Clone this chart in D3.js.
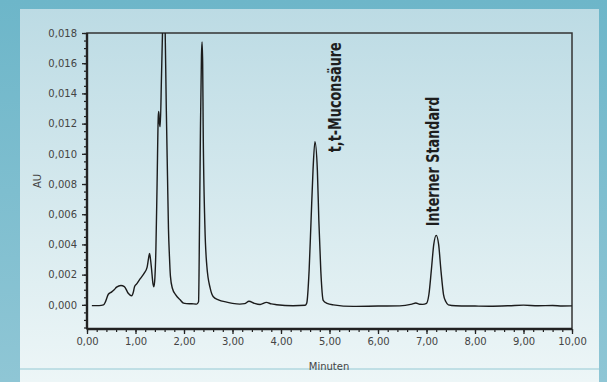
<!DOCTYPE html>
<html>
<head>
<meta charset="utf-8">
<script src="https://cdn.jsdelivr.net/npm/d3@7"></script>
<style>
  html, body { margin: 0; padding: 0; }
  svg { display: block; }
  .tick text { font-family: "DejaVu Sans", sans-serif; font-size: 10px; fill: #444; }
</style>
</head>
<body>
<svg id="chart" width="607" height="382"></svg>
<script>
// retention time (min) and absorbance (AU)
const times = [
  0.10, 0.25, 0.34, 0.38, 0.44, 0.51, 0.56, 0.61, 0.70, 0.77, 0.85, 0.92, 0.96, 0.98,
  1.02, 1.09, 1.18, 1.24, 1.27, 1.29, 1.31, 1.33, 1.36, 1.38, 1.40, 1.42, 1.445, 1.47,
  1.48, 1.495, 1.51, 1.535, 1.56, 1.585, 1.61, 1.635, 1.66, 1.68, 1.70, 1.72, 1.76,
  1.83, 1.92, 1.99, 2.05, 2.16, 2.26, 2.30, 2.32, 2.34, 2.36, 2.372, 2.385, 2.395,
  2.43, 2.47, 2.54, 2.60, 2.71, 2.88, 3.00, 3.15, 3.25, 3.34, 3.45, 3.57, 3.70, 3.80,
  3.91, 4.25, 4.50, 4.53, 4.58, 4.62, 4.66, 4.70, 4.75, 4.78, 4.82, 4.87, 4.95, 5.08,
  5.49, 6.00, 6.45, 6.70, 6.78, 6.86, 6.92, 7.00, 7.05, 7.10, 7.15, 7.20, 7.25, 7.30,
  7.35, 7.40, 7.45, 7.60, 8.00, 8.30, 8.70, 9.00, 9.30, 9.60, 9.80, 10.00
];
const absorbance = [
  -0.00005, -0.00005, 0.0000, 0.0002, 0.0007, 0.00086, 0.0010, 0.00117, 0.00128, 0.00121, 0.00077, 0.0006, 0.0009, 0.0012,
  0.00137, 0.0017, 0.0021, 0.0025, 0.0031, 0.0034, 0.0030, 0.0024, 0.0014, 0.0012, 0.0018, 0.0036, 0.0080, 0.0125,
  0.0128, 0.0120, 0.0118, 0.0150, 0.0185, 0.0220, 0.0185, 0.0130, 0.0085, 0.0050, 0.0032, 0.0019, 0.0011,
  0.00066, 0.00033, 0.00011, 0.00008, 0.00007, 0.00005, 0.0002, 0.0053, 0.0119, 0.0165, 0.0174, 0.0160, 0.0119,
  0.0053, 0.0026, 0.0011, 0.00055, 0.00033, 0.00018, 0.0001, 0.00005, 0.00008, 0.00024, 0.0001, 0.00002, 0.00016, 0.00006,
  0.00001, -0.00006, -0.00003, 0.0001, 0.0023, 0.0056, 0.0089, 0.0108, 0.0089, 0.0056, 0.0023, 0.0003, 0.0001, 0.0000,
  -0.0001, -0.00008, -0.00007, 0.00005, 0.00012, 0.00004, 0.00003, 0.0001, 0.0007, 0.0023, 0.0040, 0.0046, 0.0040, 0.0022,
  0.0007, 0.0002, 0.0000, -0.00006, -0.00008, -0.00009, -0.00006, -0.00002, -0.00006, -0.00004, -0.00008, -0.00007
];

const xTicks = [0, 1, 2, 3, 4, 5, 6, 7, 8, 9, 10];
const yTicks = [0, 0.002, 0.004, 0.006, 0.008, 0.010, 0.012, 0.014, 0.016, 0.018];

const peakLabels = ['t,t-Muconsäure', 'Interner Standard'];
const peakLabelTime = [5.24, 7.26];
const peakLabelAU = [0.0101, 0.0052];

const svg = d3.select('#chart');
const W = 607, H = 382;
const margin = { top: 33, right: 35, bottom: 53, left: 87 };
const plotW = W - margin.left - margin.right;
const plotH = H - margin.top - margin.bottom;

// backgrounds
const defs = svg.append('defs');
const outerGrad = defs.append('linearGradient').attr('id', 'outerGrad')
  .attr('x1', 0).attr('y1', 0).attr('x2', 0).attr('y2', 1);
outerGrad.append('stop').attr('offset', '0%').attr('stop-color', '#6db6c9');
outerGrad.append('stop').attr('offset', '100%').attr('stop-color', '#8fc6d5');
const panelGrad = defs.append('linearGradient').attr('id', 'panelGrad')
  .attr('x1', 0).attr('y1', 0).attr('x2', 0).attr('y2', 1);
panelGrad.append('stop').attr('offset', '0%').attr('stop-color', '#bcdbe4');
panelGrad.append('stop').attr('offset', '100%').attr('stop-color', '#edf6f7');
defs.append('clipPath').attr('id', 'plotClip')
  .append('rect').attr('width', plotW).attr('height', plotH);

svg.append('rect').attr('width', W).attr('height', H).attr('fill', 'url(#outerGrad)');
svg.append('rect').attr('x', 20).attr('y', 9).attr('width', 579).attr('height', H - 9)
  .attr('fill', 'url(#panelGrad)');
svg.append('line').attr('x1', 20).attr('x2', 599).attr('y1', 369).attr('y2', 369)
  .attr('stroke', '#94c9d4').attr('stroke-width', 1.2);

const x = d3.scaleLinear().domain([0, 10]).range([0, plotW]);
const y = d3.scaleLinear().domain([-0.0016, 0.018]).range([plotH, 0]);

const g = svg.append('g').attr('transform', `translate(${margin.left},${margin.top})`);

const fmtX = d => d3.format('.2f')(d).replace('.', ',');
const fmtY = d => d3.format('.3f')(d).replace('.', ',');

// minor ticks
g.append('g').attr('transform', `translate(0,${plotH})`)
  .call(d3.axisBottom(x).tickValues(d3.range(0, 10.001, 0.2)).tickSize(3).tickFormat(''))
  .call(a => a.select('.domain').remove())
  .call(a => a.selectAll('line').attr('stroke', '#222').attr('stroke-width', 1.2));
g.append('g')
  .call(d3.axisLeft(y).tickValues(d3.range(-0.0015, 0.01801, 0.0005)).tickSize(3).tickFormat(''))
  .call(a => a.select('.domain').remove())
  .call(a => a.selectAll('line').attr('stroke', '#222').attr('stroke-width', 1.2));

// major ticks
g.append('g').attr('transform', `translate(0,${plotH})`)
  .call(d3.axisBottom(x).tickValues(xTicks).tickSize(5).tickPadding(4).tickFormat(fmtX))
  .call(a => a.select('.domain').remove())
  .call(a => a.selectAll('line').attr('stroke', '#222').attr('stroke-width', 1.3));
g.append('g')
  .call(d3.axisLeft(y).tickValues(yTicks).tickSize(5).tickPadding(5).tickFormat(fmtY))
  .call(a => a.select('.domain').remove())
  .call(a => a.selectAll('line').attr('stroke', '#222').attr('stroke-width', 1.3));

// frame
g.append('rect').attr('width', plotW).attr('height', plotH)
  .attr('fill', 'none').attr('stroke', '#333').attr('stroke-width', 1.5);
g.append('line').attr('x1', 0).attr('x2', 0).attr('y1', 0).attr('y2', plotH)
  .attr('stroke', '#222').attr('stroke-width', 2.4);
g.append('line').attr('x1', 0).attr('x2', plotW).attr('y1', plotH).attr('y2', plotH)
  .attr('stroke', '#222').attr('stroke-width', 2.4);

// chromatogram
const pts = times.map((t, i) => [t, absorbance[i]]);
const line = d3.line().x(d => x(d[0])).y(d => y(d[1])).curve(d3.curveMonotoneX);
g.append('path').datum(pts)
  .attr('clip-path', 'url(#plotClip)')
  .attr('fill', 'none').attr('stroke', '#1c1c1c').attr('stroke-width', 1.4)
  .attr('stroke-linejoin', 'round').attr('d', line);

// peak annotations (condensed look: squeeze along the text direction)
g.selectAll('.peak-label').data(peakLabels).enter().append('text')
  .attr('class', 'peak-label')
  .attr('transform', (d, i) => `translate(${x(peakLabelTime[i])},${y(peakLabelAU[i])}) rotate(-90) scale(0.8,1.1)`)
  .attr('font-family', '"DejaVu Sans", sans-serif')
  .attr('font-weight', 'bold').attr('font-size', 16).attr('fill', '#1e1e1e')
  .text(d => d);

// axis titles
svg.append('text').attr('x', 329).attr('y', 370).attr('text-anchor', 'middle')
  .attr('font-family', '"DejaVu Sans", sans-serif').attr('font-size', 10).attr('fill', '#444')
  .text('Minuten');
svg.append('text').attr('transform', 'translate(41,181) rotate(-90)').attr('text-anchor', 'middle')
  .attr('font-family', '"DejaVu Sans", sans-serif').attr('font-size', 10).attr('fill', '#444')
  .text('AU');
</script>
</body>
</html>
